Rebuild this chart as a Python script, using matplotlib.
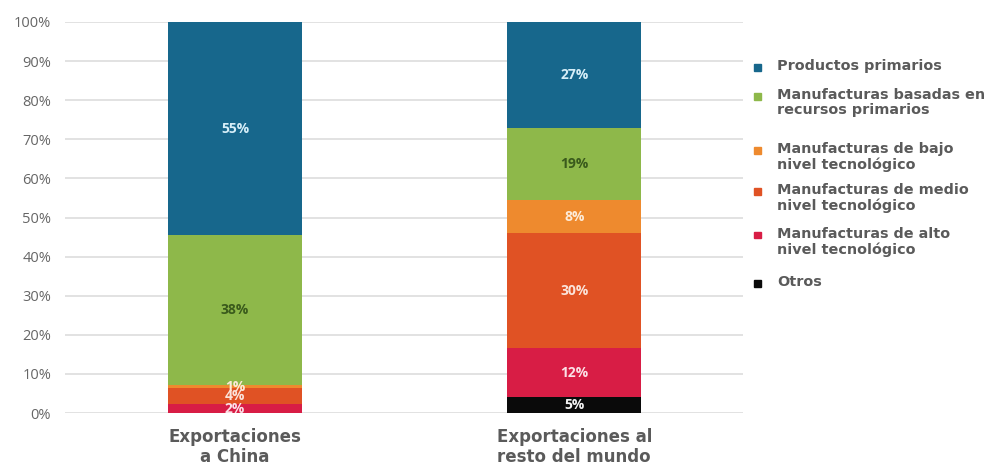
import numpy as np
import matplotlib.pyplot as plt
from matplotlib.patches import Rectangle

categories = ['Exportaciones\na China', 'Exportaciones al\nresto del mundo']
series = ['Otros',
          'Manufacturas de alto\nnivel tecnológico',
          'Manufacturas de medio\nnivel tecnológico',
          'Manufacturas de bajo\nnivel tecnológico',
          'Manufacturas basadas en\nrecursos primarios',
          'Productos primarios']

# shares (bottom to top)
otros = [0.0, 4.2]
alto = [2.3, 12.3]
medio = [4.0, 29.5]
bajo = [0.9, 8.5]
basadas = [38.3, 18.4]
primarios = [54.5, 27.1]

# printed labels
lab_otros = ['', '5%']
lab_alto = ['2%', '12%']
lab_medio = ['4%', '30%']
lab_bajo = ['1%', '8%']
lab_basadas = ['38%', '19%']
lab_primarios = ['55%', '27%']

values = [otros, alto, medio, bajo, basadas, primarios]
labels = [lab_otros, lab_alto, lab_medio, lab_bajo, lab_basadas, lab_primarios]
colors = ['#0a0a0a', '#d81d45', '#e05224', '#ee8a2e', '#8eb84a', '#17678c']
txt_colors = ['#f2f2f2', '#fbe0e6', '#fbe3da', '#fdebd8', '#3a5a1c', '#d6eef8']

W, H = 1008, 468
fig = plt.figure(figsize=(W / 100, H / 100), dpi=100)
ax = fig.add_axes([0.0645, 0.1175, 0.673, 0.8355])

x = np.arange(len(categories))
bottom = np.zeros(len(categories))
for vals, labs, c, tc, name in zip(values, labels, colors, txt_colors, series):
    vals = np.array(vals)
    ax.bar(x, vals, 0.395, bottom=bottom, color=c, label=name, zorder=2)
    for xi, v, b, t in zip(x, vals, bottom, labs):
        if t:
            ax.text(xi, b + v / 2, t, ha='center', va='center', color=tc,
                    fontsize=10, fontweight='bold', family='Open Sans', zorder=3)
    bottom += vals

ax.set_xlim(-0.501, 1.4985)
ax.set_ylim(0, 100)
ax.set_yticks(np.arange(0, 101, 10))
ax.set_yticklabels([f'{v}%' for v in range(0, 101, 10)])
ax.set_xticks(x)
ax.set_xticklabels(categories, fontsize=12, color='#5a5a5a', family='DejaVu Sans',
                   fontweight='bold', linespacing=1.12)
ax.tick_params(axis='y', length=0, pad=10, labelsize=10.5, labelcolor='#666666')
ax.tick_params(axis='x', length=0, pad=11)
for lab in ax.get_yticklabels():
    lab.set_family('Open Sans')
ax.yaxis.grid(True, color='#dddddd', lw=1.2, zorder=0)
ax.set_axisbelow(True)
for s in ax.spines.values():
    s.set_visible(False)

# legend laid out by hand: pixel row of each entry's first line, top to bottom
leg_rows = [67, 96, 150, 191, 235, 283]
for name, c, row in zip(series[::-1], colors[::-1], leg_rows):
    fig.patches.append(Rectangle(((757 - 3.5) / W, 1 - (row + 3.5) / H), 7 / W, 7 / H,
                                 transform=fig.transFigure, color=c))
    fig.text(777 / W, 1 - (row - 8) / H, name, ha='left', va='top',
             family='DejaVu Sans', fontsize=10.4, fontweight='bold',
             color='#5a5a5a', linespacing=1.1)

plt.savefig('out.png', dpi=100)
